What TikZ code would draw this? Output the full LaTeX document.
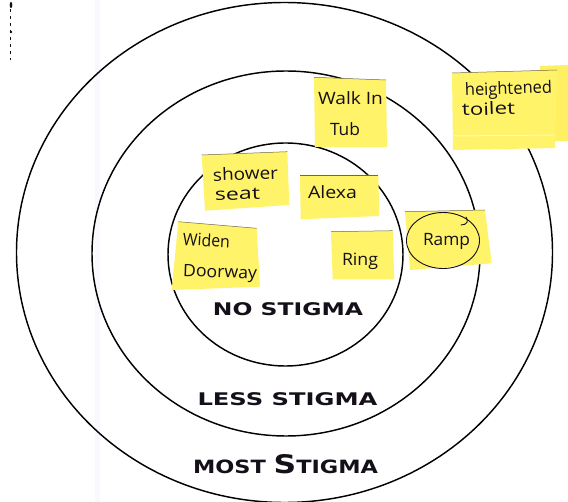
\documentclass[tikz,border=0pt]{standalone}
\usepackage{fontspec}
\usepackage{graphicx}
\setmainfont{DejaVu Sans}
\newfontfamily\zonefont{DejaVu Sans}
\newfontfamily\handfont{Open Sans}

\definecolor{noteyellow}{RGB}{255,243,105}
\definecolor{noteback}{RGB}{255,240,98}
\definecolor{noteedge}{RGB}{110,105,70}
\definecolor{ink}{RGB}{20,15,25}
\definecolor{paperband}{RGB}{249,249,253}

% stretch a piece of text to a given width, keeping its height
\newcommand\fitto[2]{\resizebox{#1}{\height}{#2}}

\tikzset{
  ring/.style={draw=black, line width=1.45pt},
  note/.style={fill=noteyellow},
  notetop/.style={draw=noteedge, line width=0.5pt},
  zone/.style={text=ink, inner sep=0pt, anchor=base,
    font=\zonefont\bfseries\fontsize{17.4}{20}\selectfont},
  hand/.style={text=ink, inner sep=0pt,
    font=\handfont\fontsize{17}{19}\selectfont},
  pen/.style={draw=ink, line width=0.9pt, line cap=round},
}

\begin{document}
\begin{tikzpicture}[x=1pt,y=-1pt]
  \useasboundingbox (0,0) rectangle (568,502);
  \clip (0,0) rectangle (568,502);
  \fill[white] (0,0) rectangle (568,502);
  \fill[paperband] (95,0) rectangle (100,502);

  % margin mark
  \draw[ink, line width=0.6pt, dash pattern=on 3pt off 4pt] (10.7,9) -- (10.7,60);
  \fill[ink] (11,5) ellipse [x radius=1.3pt, y radius=3pt];
  \fill[ink] (11,32) circle [radius=1.4pt];

  % the three stigma zones
  \draw[ring] (284.5,252.5) ellipse [x radius=268, y radius=250];
  \draw[ring] (286,253.5) ellipse [x radius=194, y radius=182.5];
  \draw[ring] (285.5,254.5) ellipse [x radius=117.5, y radius=111.5];

  \node[zone] (nostigma) at (288,316) {\fitto{150pt}{NO STIGMA}};
  \node[zone] (lessstigma) at (287.5,406) {\fitto{180pt}{LESS STIGMA}};
  \node[zone] (moststigma) at (285.5,474)
    {\fitto{185pt}{\fontsize{18.3}{20}\selectfont MOST\ \fontsize{25.6}{28}\selectfont S\fontsize{18.3}{20}\selectfont TIGMA}};

  % sticky notes
  \fill[note] (201.7,155) -- (287.3,151.7) -- (289.3,205) -- (205,210.7) -- cycle;
  \draw[notetop] (201.7,155) -- (287.3,151.7);
  \node[hand, rotate=2] (shower) at (245.5,173.5) {\fitto{65pt}{shower}};
  \node[hand, rotate=2] (seat) at (237.5,194.5) {\fitto{45pt}{seat}};

  \fill[note] (300,175) -- (378.3,175) -- (379.3,216) -- (300.7,219.3) -- cycle;
  \draw[notetop] (300,175) -- (378.3,175);
  \node[hand] (alexa) at (332.5,192.5) {\fitto{49pt}{Alexa}};

  \fill[note] (178.3,221.7) -- (256.7,228.3) -- (260,286.7) -- (171.7,290) -- cycle;
  \draw[notetop] (178.3,221.7) -- (256.7,228.3);
  \node[hand, rotate=-3] (widen) at (206.5,240) {\fitto{47pt}{Widen}};
  \node[hand, rotate=-2] (doorway) at (220,273.5) {\fitto{74pt}{Doorway}};

  \fill[note] (331,231.7) -- (392.7,230.7) -- (394.3,279.3) -- (332.7,279.3) -- cycle;
  \draw[notetop] (331,231.7) -- (392.7,230.7);
  \node[hand] (ringnote) at (360,261) {\fitto{36pt}{Ring}};

  \fill[note] (405,211.7) -- (485,210) -- (491.7,263.3) -- (410,270) -- cycle;
  \draw[notetop] (405,211.7) -- (485,210);
  \node[hand] (ramp) at (446.5,241.5) {\fitto{47pt}{Ramp}};
  \draw[pen] (443,240.5) ellipse [x radius=36.5, y radius=28];
  \draw[pen] (466,217) .. controls (469,221) and (467,225) .. (461,225);

  \fill[note] (314,77.3) -- (386,80) -- (387,147) -- (315,147) -- cycle;
  \draw[notetop] (314,77.3) -- (386,80);
  \node[hand] (walkin) at (350.5,98) {\fitto{65pt}{Walk In}};
  \node[hand] (tub) at (345,129) {\fitto{30pt}{Tub}};

  \fill[noteback] (540,66) -- (568,65) -- (568,141) -- (540,141) -- cycle;
  \fill[note] (452,73) -- (557,70) -- (555,148) -- (453,150) -- cycle;
  \draw[notetop] (452,73) -- (557,70);
  \draw[white!55!noteyellow, line width=1pt] (453,136) -- (555,135);
  \node[hand, rotate=2] (heightened) at (508.5,90) {\fitto{87pt}{heightened}};
  \node[hand, rotate=2] (toilet) at (488.5,108.5) {\fitto{53pt}{toilet}};
\end{tikzpicture}
\end{document}
